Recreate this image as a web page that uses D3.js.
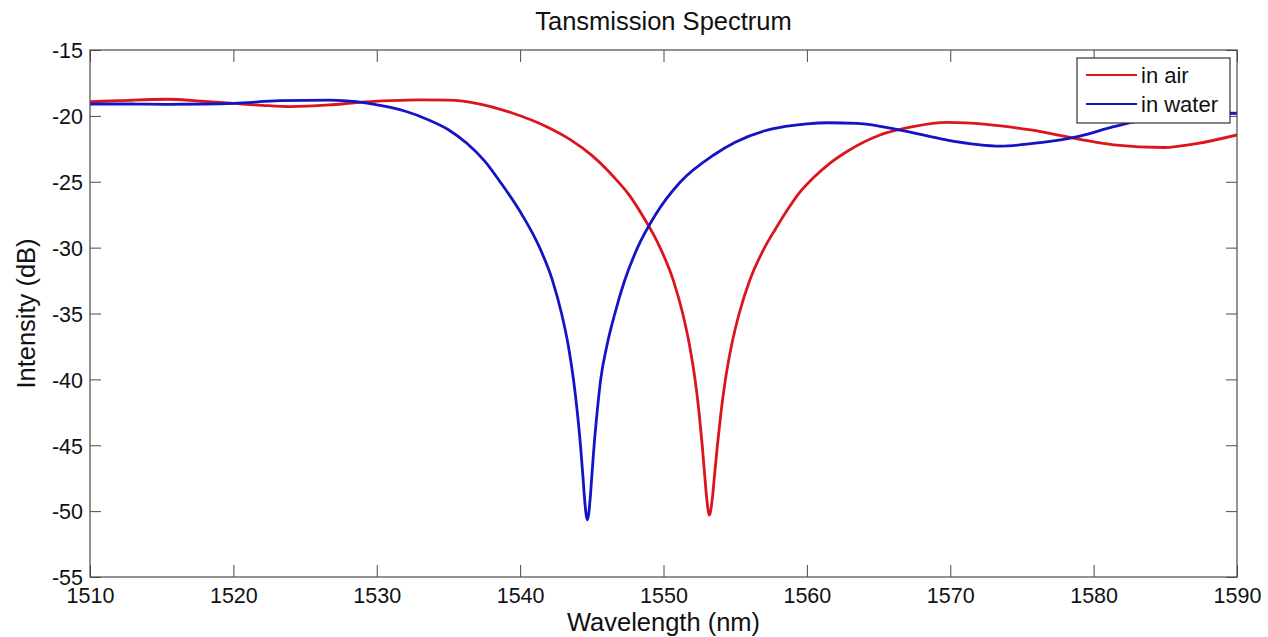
<!DOCTYPE html>
<html>
<head>
<meta charset="utf-8">
<script src="https://cdn.jsdelivr.net/npm/d3@7"></script>
<style>
  html, body { margin: 0; padding: 0; background: #fff; }
  svg { display: block; font-family: "Liberation Sans", Arial, sans-serif; }
</style>
</head>
<body>
<svg id="chart" width="1268" height="637"></svg>
<script>
// ---- Data ----
const airWavelength = [1510, 1512, 1515.35, 1518, 1520, 1522, 1524, 1526.7, 1528.6, 1530.9, 1533, 1535,
  1537.2, 1539.5, 1541.85, 1543.5, 1545, 1546.5, 1547.6, 1548.5, 1549.3, 1549.76, 1550.69, 1551.34,
  1551.83, 1552.2, 1552.48, 1552.7, 1552.89, 1553.01, 1553.2, 1553.41, 1553.54, 1553.76, 1554.01,
  1554.32, 1554.73, 1555.28, 1556.01, 1557.05, 1557.8, 1558.6, 1559.5, 1560.45, 1561.6, 1562.8,
  1565.1, 1567.4, 1569.75, 1572.5, 1575.6, 1579.05, 1581.4, 1584.9, 1587.2, 1590];
const airIntensity = [-18.92, -18.85, -18.74, -18.9, -19.05, -19.2, -19.3, -19.17, -19.0, -18.85, -18.78, -18.8,
  -19.1, -19.8, -20.82, -21.8, -23.0, -24.6, -26.0, -27.5, -29.0, -30.0, -32.5, -35.0,
  -37.5, -40.0, -42.5, -45.0, -47.5, -49.0, -50.3, -49.0, -47.5, -45.0, -42.5,
  -40.0, -37.5, -35.0, -32.5, -30.0, -28.6, -27.2, -25.8, -24.7, -23.6, -22.7,
  -21.45, -20.82, -20.5, -20.64, -21.07, -21.78, -22.2, -22.4, -22.1, -21.45];

const waterWavelength = [1510, 1513, 1515.35, 1518, 1520, 1523.25, 1526.74, 1528.6, 1530.2, 1532.0, 1533.5,
  1535.0, 1536.3, 1537.5, 1538.6, 1540.13, 1541.36, 1542.26, 1542.89, 1543.37, 1543.72, 1543.99, 1544.21,
  1544.39, 1544.49, 1544.69, 1544.89, 1544.99, 1545.16, 1545.37, 1545.62, 1546.04, 1546.61, 1547.29,
  1548.19, 1549.44, 1551.19, 1553.5, 1555, 1557, 1558.5, 1560, 1561.5, 1563.5, 1566.7, 1569.75,
  1573.5, 1576.3, 1579.05, 1581.4, 1583.2, 1585, 1587.5, 1590];
const waterIntensity = [-19.1, -19.1, -19.12, -19.1, -19.05, -18.85, -18.8, -18.92, -19.2, -19.65, -20.25,
  -21.05, -22.1, -23.4, -25.0, -27.5, -30.0, -32.5, -35.0, -37.5, -40.0, -42.5, -45.0,
  -47.5, -49.0, -50.67, -49.0, -47.5, -45.0, -42.5, -40.0, -37.5, -35.0, -32.5,
  -30.0, -27.5, -25.0, -22.97, -22.0, -21.15, -20.8, -20.6, -20.52, -20.57, -21.12, -21.83,
  -22.29, -22.03, -21.53, -20.82, -20.36, -20.05, -19.85, -19.8];

const xTicks = [1510, 1520, 1530, 1540, 1550, 1560, 1570, 1580, 1590];
const yTicks = [-55, -50, -45, -40, -35, -30, -25, -20, -15];
const seriesNames = ["in air", "in water"];
const seriesColors = ["#dc141c", "#1414c4"];
const titleText = "Tansmission Spectrum";
const xLabelText = "Wavelength (nm)";
const yLabelText = "Intensity (dB)";

// ---- Layout ----
const W = 1268, H = 637;
const margin = { left: 90, top: 50, right: W - 1237, bottom: H - 577 };
const pw = W - margin.left - margin.right;
const ph = H - margin.top - margin.bottom;
const axisColor = "#4a4a4a";

const svg = d3.select("#chart");
const g = svg.append("g").attr("transform", `translate(${margin.left},${margin.top})`);

const x = d3.scaleLinear().domain([1510, 1590]).range([0, pw]);
const y = d3.scaleLinear().domain([-55, -15]).range([ph, 0]);

svg.append("defs").append("clipPath").attr("id", "clip")
  .append("rect").attr("width", pw).attr("height", ph);

// series
const series = [
  { name: seriesNames[0], color: seriesColors[0], pts: airWavelength.map((w, i) => [w, airIntensity[i]]) },
  { name: seriesNames[1], color: seriesColors[1], pts: waterWavelength.map((w, i) => [w, waterIntensity[i]]) }
];
const line = d3.line().x(d => x(d[0])).y(d => y(d[1])).curve(d3.curveMonotoneX);
const lines = g.append("g").attr("clip-path", "url(#clip)");
series.forEach(s => {
  lines.append("path").datum(s.pts)
    .attr("fill", "none").attr("stroke", s.color).attr("stroke-width", 2.8)
    .attr("stroke-linejoin", "round").attr("d", line);
});

// axes (inner ticks on all four sides)
const fmt = d => String(d);
function styleAxis(sel) {
  sel.select(".domain").remove();
  sel.selectAll(".tick line").attr("stroke", axisColor).attr("stroke-width", 1);
  sel.selectAll("text").attr("fill", "#111").style("font-size", "21.5px");
}
const xBottom = g.append("g").attr("transform", `translate(0,${ph})`)
  .call(d3.axisBottom(x).tickValues(xTicks).tickFormat(fmt).tickSizeInner(-12));
styleAxis(xBottom);
xBottom.selectAll("text").attr("dy", "0.71em").attr("y", 11);
const xTop = g.append("g")
  .call(d3.axisTop(x).tickValues(xTicks).tickSizeInner(-12).tickFormat(""));
styleAxis(xTop);
const yLeft = g.append("g")
  .call(d3.axisLeft(y).tickValues(yTicks).tickFormat(fmt).tickSizeInner(-11));
styleAxis(yLeft);
yLeft.selectAll("text").attr("x", -7).attr("dy", "0.36em");
const yRight = g.append("g").attr("transform", `translate(${pw},0)`)
  .call(d3.axisRight(y).tickValues(yTicks).tickSizeInner(-11).tickFormat(""));
styleAxis(yRight);

// frame
g.append("rect").attr("width", pw).attr("height", ph)
  .attr("fill", "none").attr("stroke", axisColor).attr("stroke-width", 1.2);

// title & labels
svg.append("text").attr("x", margin.left + pw / 2).attr("y", 30)
  .attr("text-anchor", "middle").style("font-size", "25.5px").attr("fill", "#111").text(titleText);
svg.append("text").attr("x", margin.left + pw / 2).attr("y", 631)
  .attr("text-anchor", "middle").style("font-size", "25.5px").attr("fill", "#111").text(xLabelText);
svg.append("text").attr("transform", `translate(35,${margin.top + ph / 2}) rotate(-90)`)
  .attr("text-anchor", "middle").style("font-size", "25.5px").attr("fill", "#111").text(yLabelText);

// legend
const lg = g.append("g").attr("transform", `translate(${pw - 160},8)`);
lg.append("rect").attr("width", 153).attr("height", 65)
  .attr("fill", "#fff").attr("stroke", "#333").attr("stroke-width", 1.2);
series.forEach((s, i) => {
  const yy = 17 + i * 29;
  lg.append("line").attr("x1", 9).attr("x2", 60).attr("y1", yy).attr("y2", yy)
    .attr("stroke", s.color).attr("stroke-width", 2.2);
  lg.append("text").attr("x", 64).attr("y", yy).attr("dy", "0.36em")
    .style("font-size", "22px").attr("fill", "#111").text(s.name);
});
</script>
</body>
</html>
